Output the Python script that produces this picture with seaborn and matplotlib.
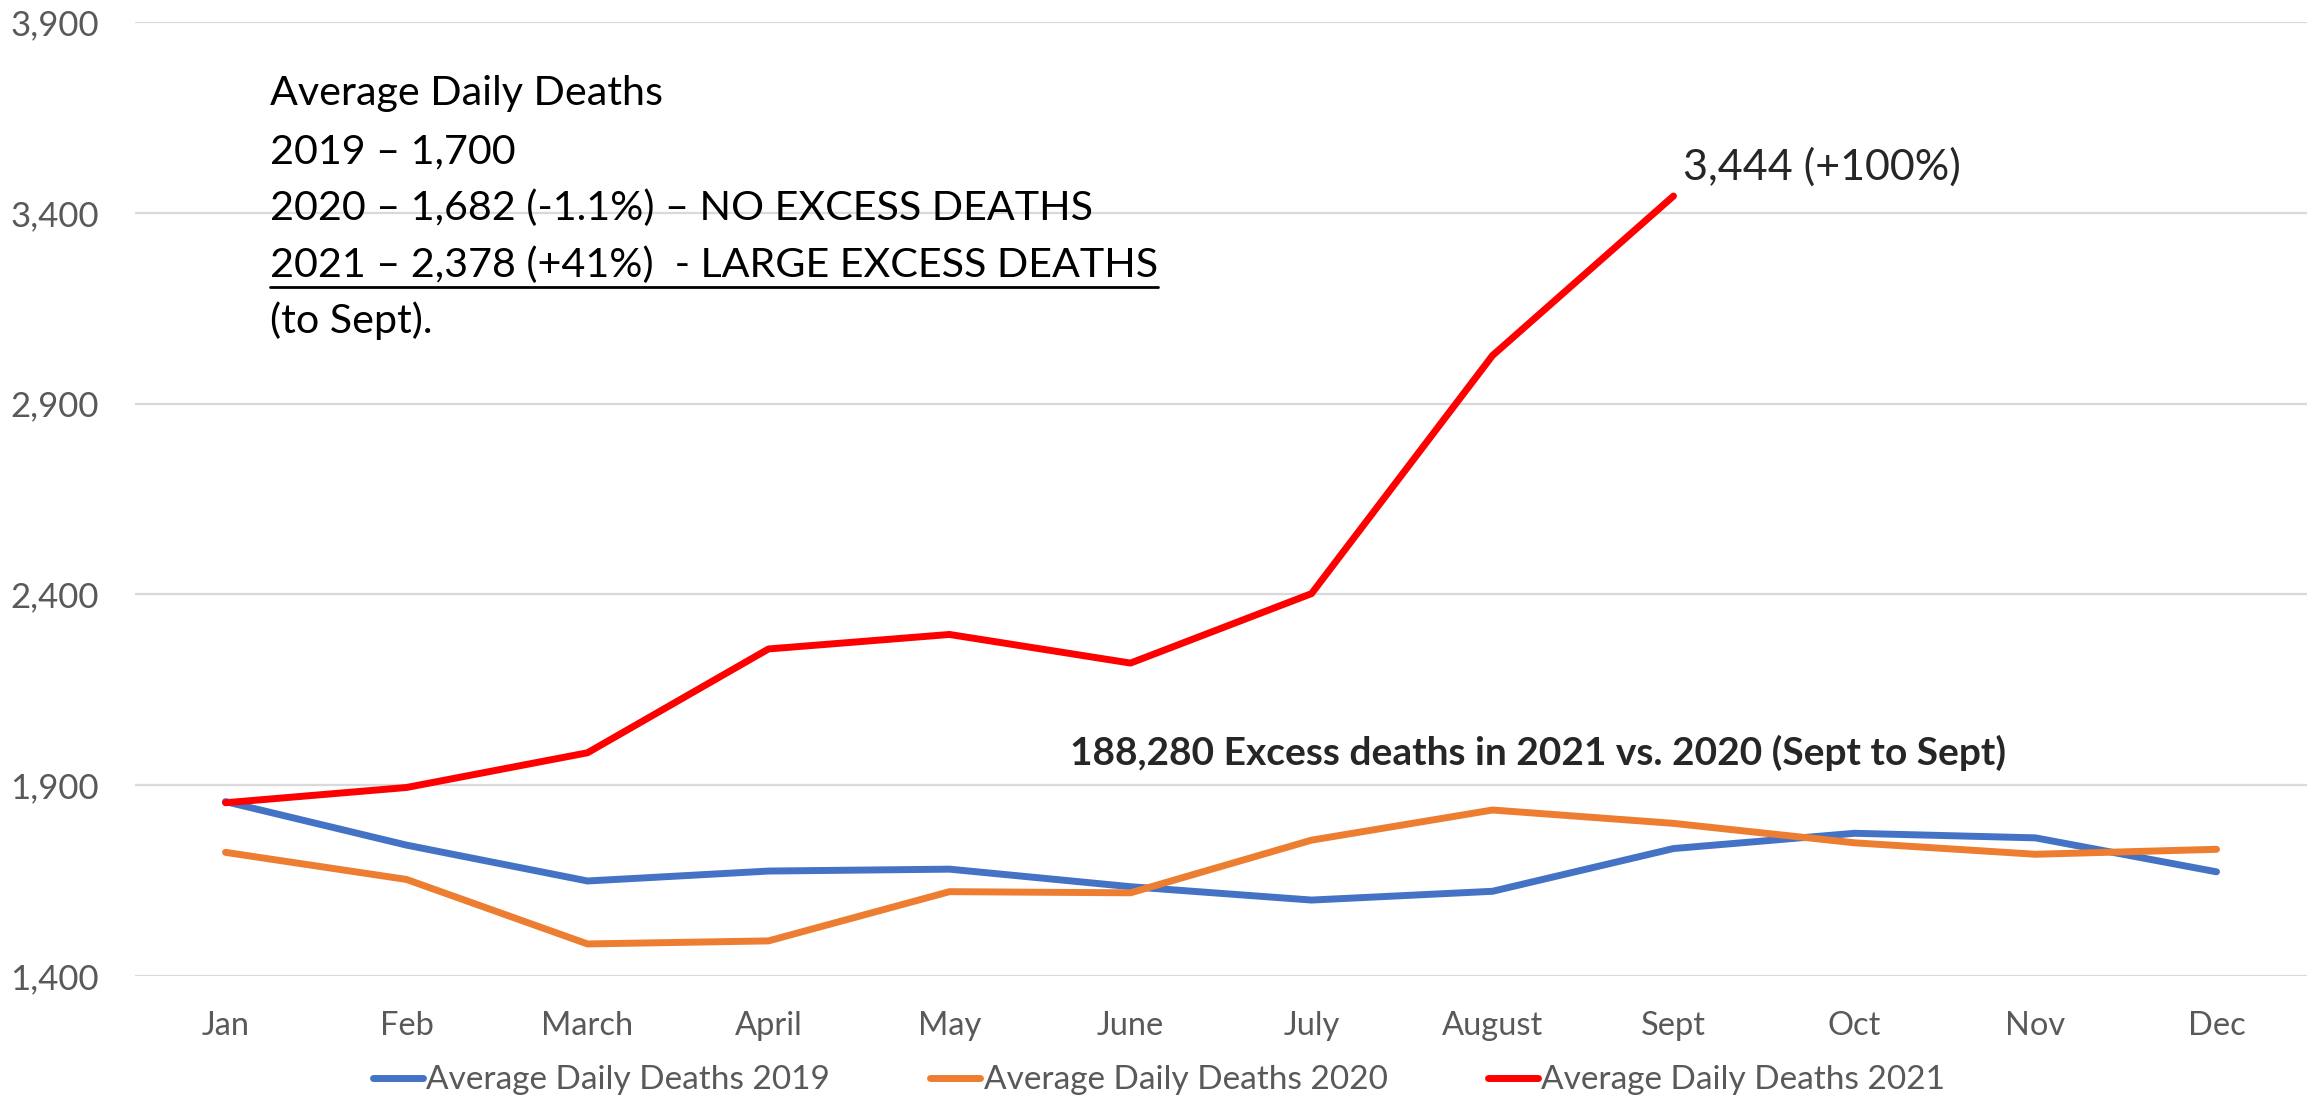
import matplotlib
matplotlib.use("Agg")
import matplotlib.pyplot as plt
from matplotlib.lines import Line2D
import seaborn as sns
import pandas as pd

# Data
months = ['Jan', 'Feb', 'March', 'April', 'May', 'June', 'July', 'August', 'Sept', 'Oct', 'Nov', 'Dec']
deaths_2019 = [1857, 1743, 1649, 1675, 1680, 1634, 1599, 1622, 1734, 1774, 1762, 1673]
deaths_2020 = [1724, 1653, 1484, 1492, 1621, 1618, 1756, 1835, 1800, 1749, 1719, 1732]
deaths_2021 = [1854, 1894, 1985, 2257, 2295, 2220, 2402, 3026, 3444]
series_names = ['Average Daily Deaths 2019', 'Average Daily Deaths 2020', 'Average Daily Deaths 2021']
series_colors = ['#4472C4', '#ED7D31', '#FF0000']
y_ticks = [1400, 1900, 2400, 2900, 3400, 3900]

summary_lines = [
    'Average Daily Deaths',
    '2019 \u2013 1,700',
    '2020 \u2013 1,682 (-1.1%) \u2013 NO EXCESS DEATHS',
    '2021 \u2013 2,378 (+41%)  - LARGE EXCESS DEATHS',
    '(to Sept).',
]
excess_note = '188,280 Excess deaths in 2021 vs. 2020 (Sept to Sept)'

# long format table for seaborn
frames = []
for name, vals in zip(series_names, [deaths_2019, deaths_2020, deaths_2021]):
    frames.append(pd.DataFrame({'month': months[:len(vals)], 'deaths': vals, 'series': name}))
df = pd.concat(frames, ignore_index=True)

sns.set_style('white')
plt.rcParams['font.family'] = ['Lato', 'DejaVu Sans']

W, H = 2318, 1101
fig = plt.figure(figsize=(W / 100, H / 100), dpi=100)
ax = fig.add_axes([135 / W, 125 / H, 2172 / W, 954 / H])


def px(x, y):
    return x / W, 1 - y / H


sns.lineplot(data=df, x='month', y='deaths', hue='series', palette=series_colors,
             linewidth=5, sort=False, ax=ax)

ax.set_xlim(-0.5, len(months) - 0.5)
ax.set_ylim(y_ticks[0], y_ticks[-1])
ax.set_yticks(y_ticks)
ax.set_yticklabels([f'{v:,}' for v in y_ticks])
ax.set_xlabel('')
ax.set_ylabel('')
ax.yaxis.grid(True, color='#d9d9d9', linewidth=1.6)
ax.xaxis.grid(False)
for s in ax.spines.values():
    s.set_visible(False)
ax.tick_params(axis='both', length=0, colors='#595959')
ax.tick_params(axis='y', pad=26, labelsize=25)
ax.tick_params(axis='x', pad=25, labelsize=23.5)

sns.move_legend(ax, 'lower center', bbox_to_anchor=(0.5, -0.01), bbox_transform=fig.transFigure,
                ncol=3, frameon=False, title=None, fontsize=24, handlelength=1.5,
                handletextpad=0.1, columnspacing=3.0, borderaxespad=0.1)
leg = ax.get_legend()
for t in leg.get_texts():
    t.set_color('#595959')
for ln in leg.get_lines():
    ln.set_linewidth(5)

# summary text block
baselines = [105, 163, 220, 277, 333]
texts = []
for line, yb in zip(summary_lines, baselines):
    texts.append(fig.text(*px(270, yb), line, fontsize=29.7, color='black', va='baseline', ha='left'))

ax.annotate(f'{deaths_2021[-1]:,} (+100%)', xy=(len(deaths_2021) - 1, deaths_2021[-1]),
            xytext=(7, 12), textcoords='offset points', fontsize=31, va='baseline', ha='left')

fig.text(*px(1070, 765), excess_note, fontsize=28, fontweight='bold', va='baseline', ha='left')

# underline the 2021 line
fig.canvas.draw()
bb = texts[3].get_window_extent()
fig.add_artist(Line2D([bb.x0 / W, bb.x1 / W], [1 - 287 / H] * 2, transform=fig.transFigure,
                      color='black', linewidth=2))

fig.savefig('out.png', dpi=100)
